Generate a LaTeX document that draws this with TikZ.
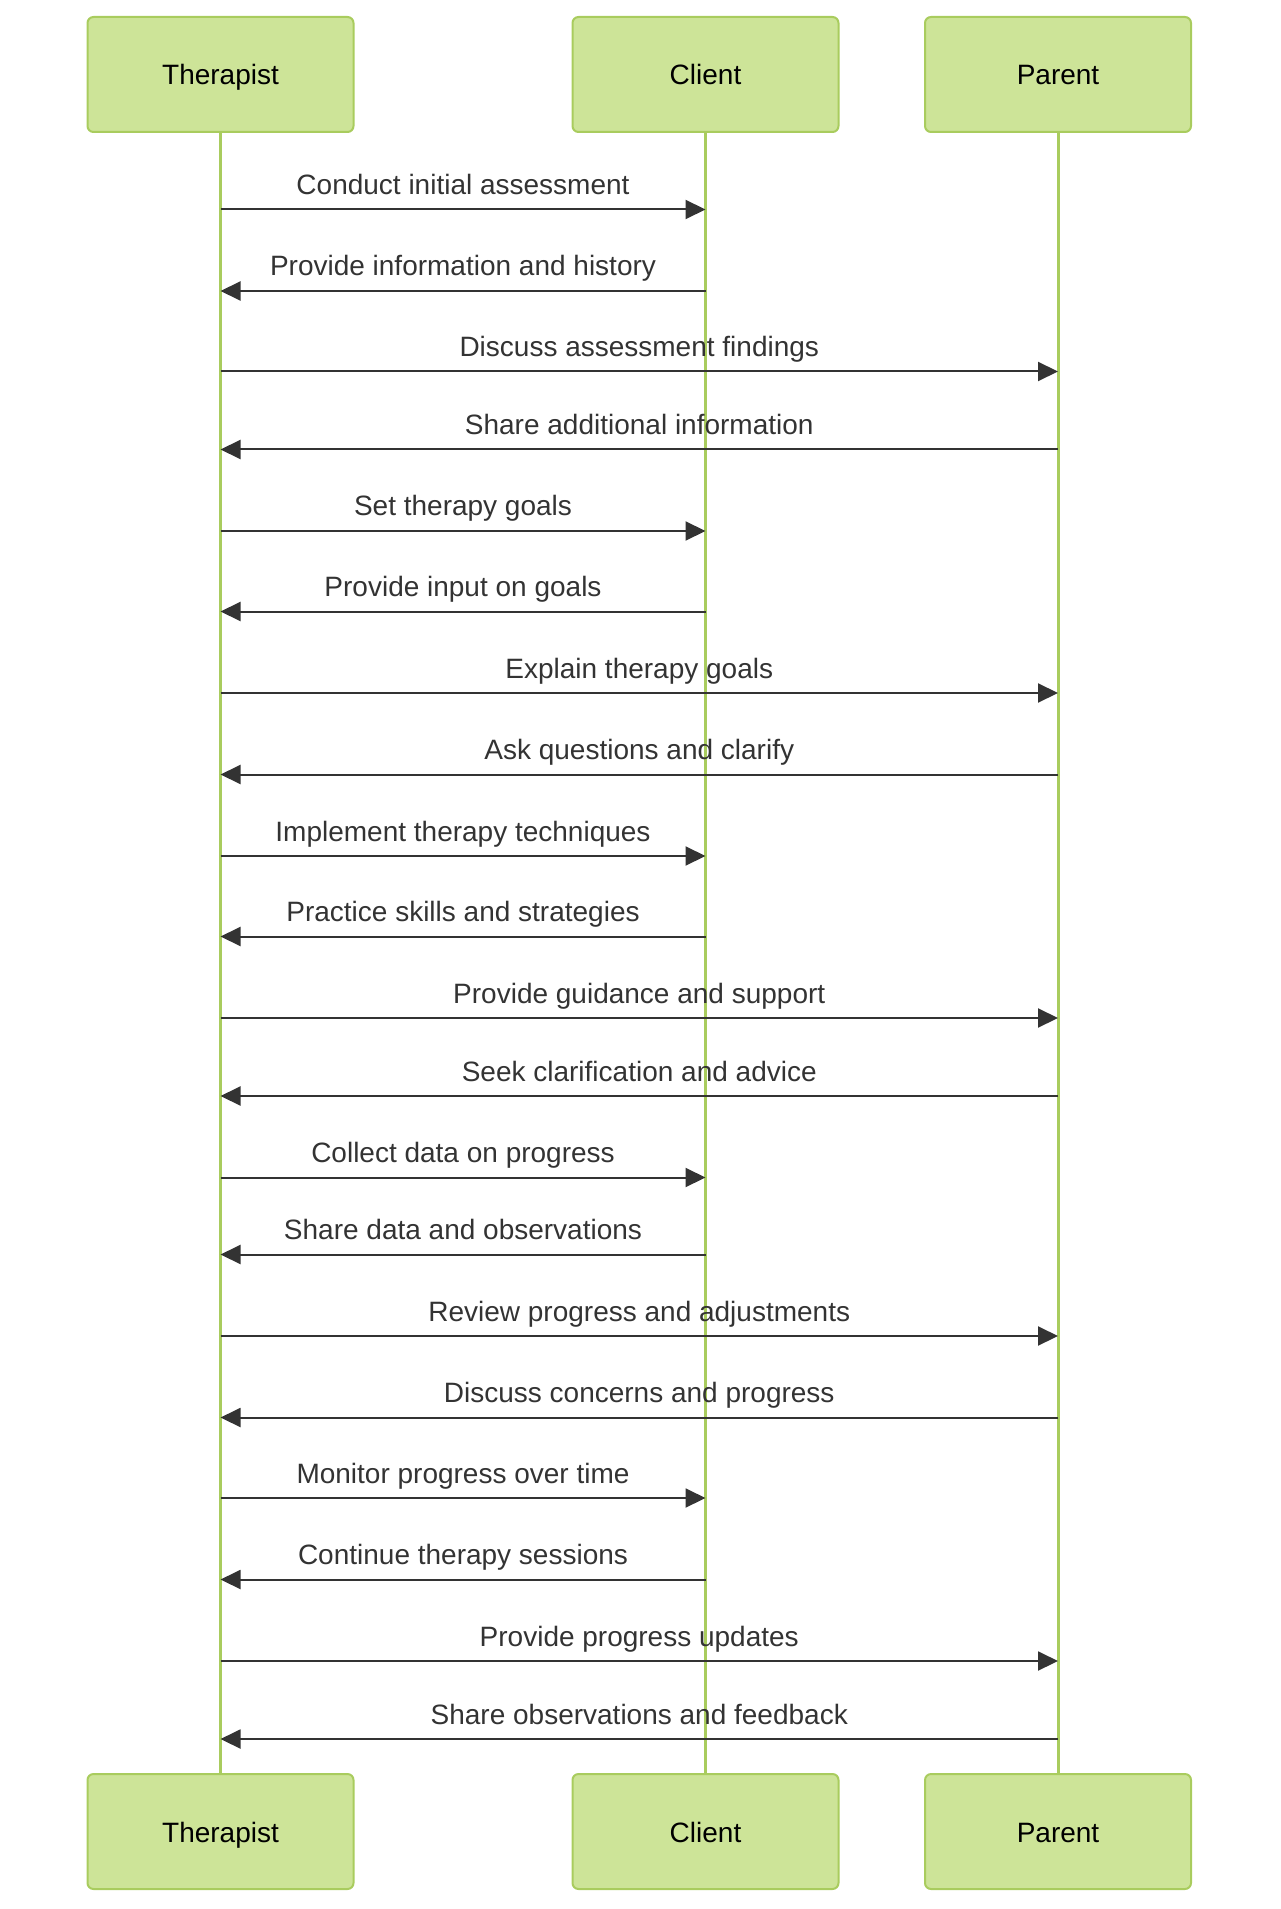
\documentclass[tikz,border=0pt]{standalone}
\usepackage{fontspec}
\setmainfont{Liberation Sans}
\usetikzlibrary{arrows.meta,positioning}
\definecolor{ActorFill}{HTML}{CDE498}
\definecolor{ActorLine}{HTML}{A9CC5E}
\definecolor{MsgGray}{HTML}{333333}

\begin{document}
\begin{tikzpicture}[x=0.5pt,y=-0.5pt,
	actor/.style={draw=ActorLine,fill=ActorFill,line width=1pt,rounded corners=3pt,
		minimum width=133pt,minimum height=57.5pt,inner sep=0pt,
		text height=12.5pt,text depth=2pt,
		font=\fontsize{14}{16}\selectfont},
	life/.style={ActorLine,line width=1.5pt},
	msg/.style={MsgGray,line width=1pt,-{Triangle[length=10pt,width=9.5pt]}},
	lbl/.style={MsgGray,anchor=base,yshift=7.5pt,inner sep=0pt,
		font=\fontsize{14}{16}\selectfont}]
	\useasboundingbox (0,0) rectangle (1280,1909);
	
	% 角色（上）
	\node[actor] (T) at (220.5,74.5) {Therapist};
	\node[actor] (C) at (705.5,74.5) {Client};
	\node[actor] (P) at (1058,74.5) {Parent};
	
	% 角色（下）
	\node[actor] (Tb) at (220.5,1831.5) {Therapist};
	\node[actor] (Cb) at (705.5,1831.5) {Client};
	\node[actor] (Pb) at (1058,1831.5) {Parent};
	
	% 生命线
	\draw[life] (T.south) -- (Tb.north);
	\draw[life] (C.south) -- (Cb.north);
	\draw[life] (P.south) -- (Pb.north);
	
	% 消息
	\foreach \y/\src/\dst/\txt [count=\i] in {
		209.5/T/C/Conduct initial assessment,
		291/C/T/Provide information and history,
		371.5/T/P/Discuss assessment findings,
		449.5/P/T/Share additional information,
		531/T/C/Set therapy goals,
		611.5/C/T/Provide input on goals,
		693/T/P/Explain therapy goals,
		774.5/P/T/Ask questions and clarify,
		856/T/C/Implement therapy techniques,
		936.5/C/T/Practice skills and strategies,
		1018/T/P/Provide guidance and support,
		1096/P/T/Seek clarification and advice,
		1177.5/T/C/Collect data on progress,
		1254.5/C/T/Share data and observations,
		1336/T/P/Review progress and adjustments,
		1417.5/P/T/Discuss concerns and progress,
		1498/T/C/Monitor progress over time,
		1579.5/C/T/Continue therapy sessions,
		1661/T/P/Provide progress updates,
		1739/P/T/Share observations and feedback}
	{
		\coordinate (m\i a) at (\src |- 0,\y);
		\coordinate (m\i b) at (\dst |- 0,\y);
		\draw[msg] (m\i a) -- node[lbl] {\txt} (m\i b);
	}
\end{tikzpicture}
\end{document}
